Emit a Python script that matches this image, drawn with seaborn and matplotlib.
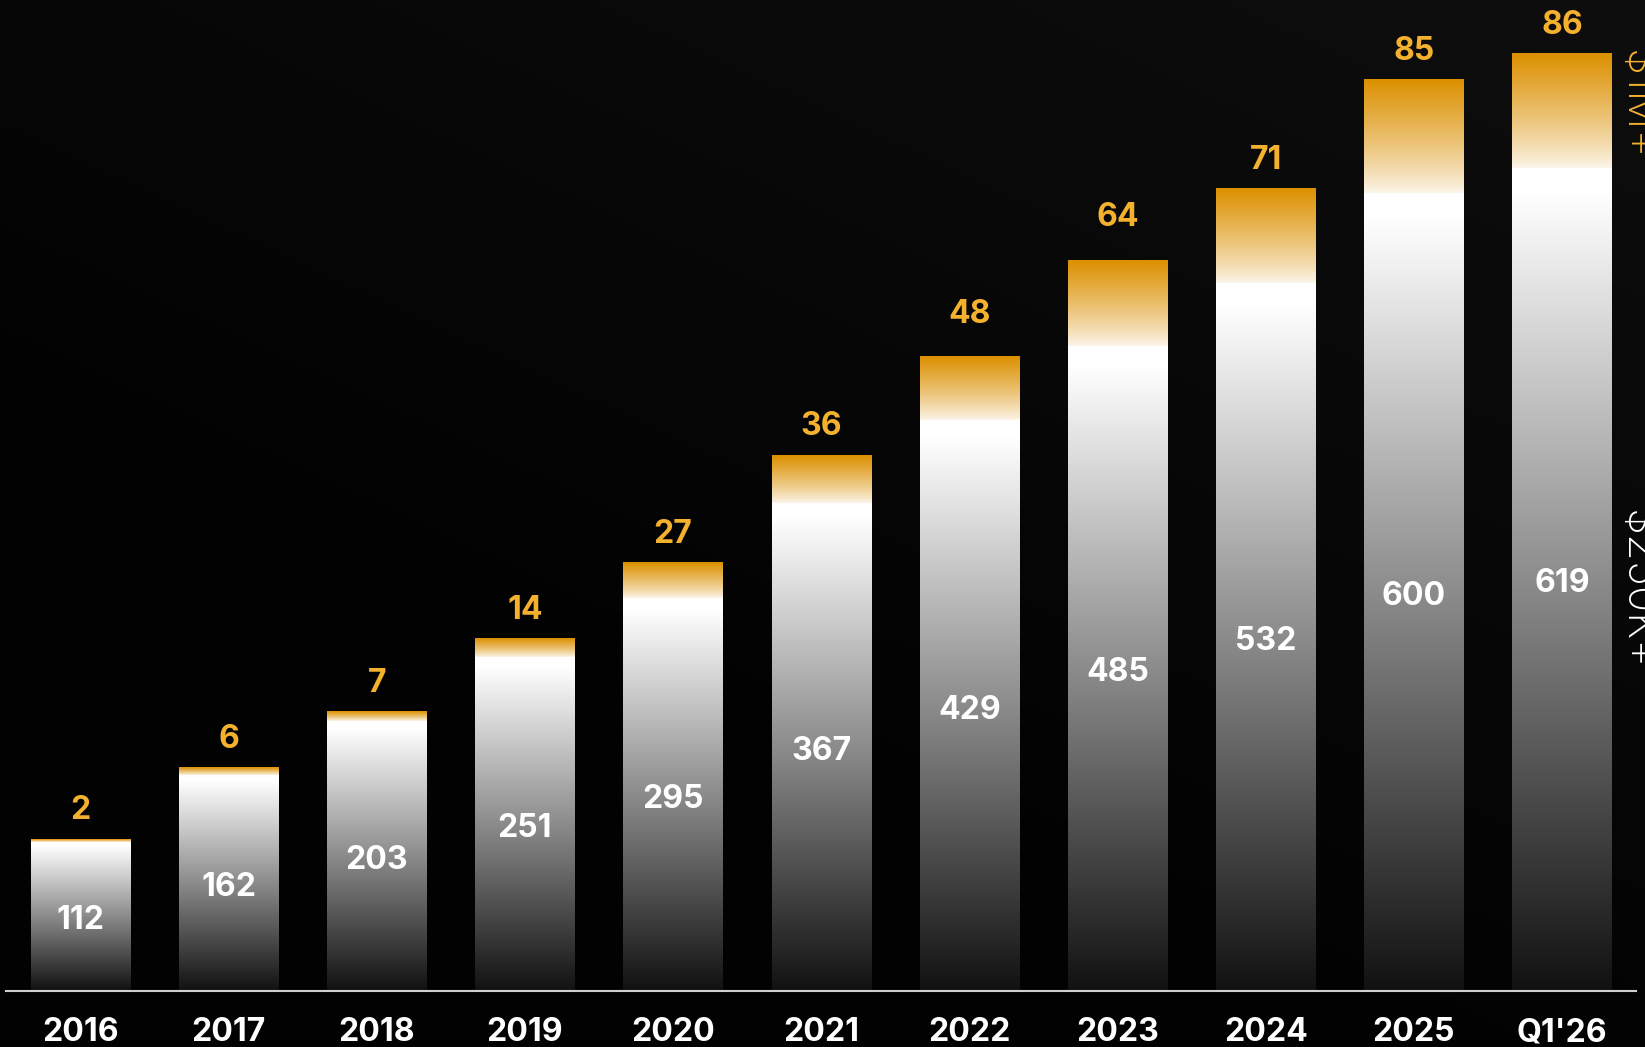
import numpy as np
import pandas as pd
import matplotlib
matplotlib.use("Agg")
import matplotlib.pyplot as plt
import seaborn as sns

# Customer counts by spend tier
periods = ["2016", "2017", "2018", "2019", "2020", "2021", "2022", "2023", "2024", "2025", "Q1'26"]
customers_250k = [112, 162, 203, 251, 295, 367, 429, 485, 532, 600, 619]
customers_1m = [2, 6, 7, 14, 27, 36, 48, 64, 71, 85, 86]
tier_names = ["$250K+", "$1M+"]

# a couple of $1M+ labels sit a little higher above their bars (points)
extra_lift = {"2022": 10, "2023": 11}

W, H = 1645, 1047
ORANGE_TOP = np.array([220, 144, 0]) / 255
ORANGE_BOTTOM = np.array([252, 246, 236]) / 255
LABEL_ORANGE = "#F4B12E"
DARK_GREY = 0.07
FS = 23

sns.set_theme(style="white")
plt.rcParams["font.family"] = ["Inter", "DejaVu Sans"]

df = pd.DataFrame({"period": periods,
                   "over_250k": customers_250k,
                   "over_1m": customers_1m})
df["total"] = df["over_250k"] + df["over_1m"]

fig = plt.figure(figsize=(W / 100, H / 100), dpi=100)
fig.patch.set_facecolor("#040404")

# soft dark backdrop, slightly lighter towards the upper right
bg = fig.add_axes([0, 0, 1, 1], zorder=0)
yy, xx = np.mgrid[0:1:200j, 0:1:300j]
lum = 0.008 + 0.055 * np.clip(0.55 * xx + 0.75 * yy - 0.45, 0, 1)
bg.imshow(np.dstack([lum] * 3), extent=[0, 1, 0, 1], origin="lower",
          aspect="auto", interpolation="bilinear")
bg.set_axis_off()

ax = fig.add_axes([6.4 / W, 56.5 / H, (1636 - 6.4) / W, 990.5 / H], zorder=1)
ax.patch.set_alpha(0)

sns.barplot(data=df, x="period", y="total", color=LABEL_ORANGE, width=0.67,
            errorbar=None, saturation=1, ax=ax)
sns.barplot(data=df, x="period", y="over_250k", color="white", width=0.67,
            errorbar=None, saturation=1, ax=ax)

n = len(periods)
top_bars = ax.patches[:n]
base_bars = ax.patches[n:2 * n]

t = np.linspace(0, 1, 256)[:, None, None]
white_grad = np.clip(DARK_GREY + (1 - DARK_GREY) * np.minimum(1, t * 1.03), 0, 1)
white_grad = np.repeat(white_grad, 3, axis=2)
orange_grad = ORANGE_BOTTOM + (ORANGE_TOP - ORANGE_BOTTOM) * t ** 0.85

for period, tb, bb, v250, v1m in zip(periods, top_bars, base_bars,
                                     customers_250k, customers_1m):
    x0, w = bb.get_x(), bb.get_width()
    h_base, h_tot = bb.get_height(), tb.get_height()
    ax.imshow(white_grad, extent=[x0, x0 + w, 0, h_base], origin="lower",
              aspect="auto", interpolation="bilinear", zorder=2)
    ax.imshow(orange_grad, extent=[x0, x0 + w, h_base, h_tot], origin="lower",
              aspect="auto", interpolation="bilinear", zorder=2)
    tb.set_visible(False)
    bb.set_visible(False)

    cx = x0 + w / 2
    ax.annotate(f"{v250}", (cx, h_base / 2), xytext=(0, -9.5),
                textcoords="offset points", ha="center", va="baseline",
                color="white", fontsize=FS, fontweight="bold", zorder=3)
    ax.annotate(f"{v1m}", (cx, h_tot), xytext=(0, 14 + extra_lift.get(period, 0)),
                textcoords="offset points", ha="center", va="baseline",
                color=LABEL_ORANGE, fontsize=FS, fontweight="bold", zorder=3)

ax.set_xlim(-0.5, n - 0.5)
ax.set_ylim(0, 745)
ax.set_xlabel("")
ax.set_ylabel("")
ax.set_yticks([])
for side in ["top", "left", "right"]:
    ax.spines[side].set_visible(False)
ax.spines["bottom"].set_color("#cfcfcf")
ax.spines["bottom"].set_linewidth(1.5)
ax.tick_params(axis="x", length=0, pad=19.2, labelsize=FS, labelcolor="white")
for lbl in ax.get_xticklabels():
    lbl.set_fontweight("bold")

# tier names running down the right edge
fig.text(1624.5 / W, 1 - 50 / H, tier_names[1].replace("$", r"\$"), rotation=-90,
         rotation_mode="anchor", ha="left", va="baseline",
         color=LABEL_ORANGE, fontsize=31.3, fontweight="light")
fig.text(1624.5 / W, 1 - 510 / H, tier_names[0].replace("$", r"\$"), rotation=-90,
         rotation_mode="anchor", ha="left", va="baseline",
         color="white", fontsize=31.3, fontweight="light")

fig.savefig("out.png", dpi=100, facecolor=fig.get_facecolor())
